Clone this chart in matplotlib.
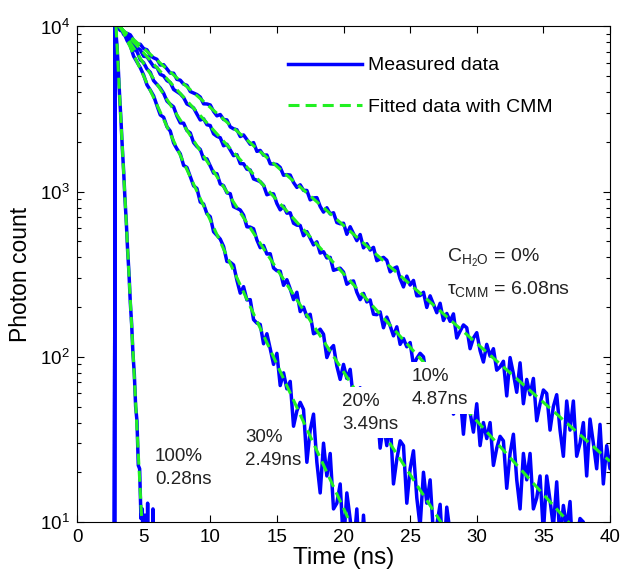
import numpy as np
import matplotlib
matplotlib.use("Agg")
import matplotlib.pyplot as plt
from matplotlib.ticker import LogLocator, NullLocator

plt.rcParams['font.family'] = ['Liberation Sans', 'DejaVu Sans']
plt.rcParams['mathtext.default'] = 'regular'

# rising edge shared by all decays (ns, counts)
rise_t = [2.80, 2.86]
rise_n = [1, 10400]

# measured decays: time of first bin, bin width (ns), counts per bin
start_0, step_0 = 3.25, 0.25
counts_0 = [
    9968, 9213, 9090, 8898, 8248, 7795, 7807, 7346, 7227, 6664, 6461, 6326,
    5846, 5869, 5536, 5221, 5214, 4784, 4732, 4475, 4402, 4038, 3955, 3872,
    3738, 3402, 3396, 3349, 3063, 2877, 2931, 2735, 2718, 2467, 2401, 2370,
    2157, 2205, 2066, 1935, 1981, 1754, 1777, 1661, 1667, 1475, 1469, 1460,
    1402, 1257, 1268, 1260, 1137, 1061, 1100, 1018,
    1017, 892, 916, 920, 813, 752, 799, 733, 745, 650, 639, 644,
    552, 613, 557, 505, 550, 457, 484, 443, 460, 382, 392, 400,
    384, 327, 342, 350, 297, 265, 308, 272, 290, 234, 235, 246,
    199, 234, 208, 185, 211, 166, 183, 164, 182, 130, 143, 156,
    150, 112, 130, 140, 109, 93, 119, 101, 112, 83, 87, 94,
    58, 99, 79, 61, 92, 52, 73, 59, 74, 41, 52, 63,
    60, 36, 50, 59, 36, 25, 54, 36, 54, 25, 30, 40,
    19, 42, 30, 21, 39, 17, 29, 21, 31]

start_10, step_10 = 3.25, 0.25
counts_10 = [
    9455, 9373, 8730, 8502, 7759, 7446, 7216, 6602, 6560, 6125, 5717, 5652,
    5132, 5025, 4703, 4580, 4158, 4032, 3907, 3712, 3395, 3315, 3212, 2948,
    2716, 2762, 2543, 2513, 2239, 2163, 2121, 1896, 1936, 1789, 1652, 1673,
    1479, 1475, 1368, 1352, 1194, 1173, 1150, 1093, 958, 974, 969, 848,
    776, 817, 741, 745, 644, 627, 624, 541, 573, 523, 476, 497,
    425, 433, 397, 400, 334, 339, 344, 326, 275, 285, 288, 246,
    222, 242, 215, 221, 181, 180, 187, 150, 174, 154, 134, 152,
    119, 129, 115, 122, 89, 98, 105, 100, 74, 85, 90, 69,
    59, 74, 62, 69, 45, 50, 59, 34, 58, 46, 35, 52,
    29, 40, 32, 40, 22, 28, 33, 31, 16, 26, 34, 18,
    12, 26, 18, 26, 12, 14, 19, 8.6, 19, 13.5, 9.3, 17.5,
    7.5, 12.6, 9.2, 13.3, 5.4, 7.9, 10.5, 10, 4.7]

start_20, step_20 = 3.25, 0.25
counts_20 = [
    9981, 8948, 8713, 7972, 7291, 7062, 6286, 6031, 5530, 5277, 4696, 4461,
    4237, 3943, 3536, 3384, 3259, 2870, 2607, 2599, 2344, 2269, 1982, 1875,
    1802, 1579, 1580, 1431, 1295, 1284, 1113, 1087, 984, 972, 811, 793,
    775, 721, 613, 610, 596, 510, 458, 472, 419, 421, 345, 332,
    330, 271, 293, 258, 222, 246, 188, 200, 175, 181, 138, 141,
    147, 137, 99, 111, 117, 88, 73, 90, 74, 84, 55, 57,
    65, 37, 61, 47, 35, 52, 28, 39, 29, 42, 17, 24,
    31, 29, 13, 21, 27, 14, 9.4, 20, 13, 18, 8.4, 9.6,
    12.8, 5.7, 12.3, 8.6, 5.8]

start_30, step_30 = 3.25, 0.25
counts_30 = [
    9919, 9246, 8239, 7639, 6604, 6095, 5624, 5087, 4431, 4121, 3801, 3320,
    2913, 2821, 2472, 2326, 1973, 1814, 1694, 1442, 1402, 1234, 1085, 1046,
    865, 842, 735, 705, 572, 544, 516, 466, 378, 374, 360, 291,
    243, 266, 221, 222, 168, 160, 157, 120, 138, 112, 90, 105,
    67, 80, 64, 71, 38, 47, 53, 48, 23, 36, 45, 23,
    15, 30, 19, 26, 12, 13, 17, 7.3, 15, 10.4, 6.8, 12,
    5, 11, 5.5, 7.6, 2.9]

start_100, step_100 = 3.0, 0.1
counts_100 = [
    7700, 5520, 3760, 2710, 1840, 1330, 900, 655, 438, 322,
    213, 158, 104, 79, 50, 41, 22, 21, 10.5, 12,
    5, 11, 3, 13, 2, 4, 2, 12, 1]

# fitted decays (CMM): end points in (ns, counts)
fit_t_0, fit_n_0 = [3.14, 40.0], [10000, 23.3]
fit_t_10, fit_n_10 = [3.20, 37.5], [10000, 8.8]
fit_t_20, fit_n_20 = [3.20, 28.0], [10000, 8.2]
fit_t_30, fit_n_30 = [3.28, 21.0], [10000, 8.1]
fit_t_100, fit_n_100 = [2.93, 5.0], [10000, 6.2]

blue = '#0000ff'
green = '#22f022'

fig = plt.figure(figsize=(6.21, 5.72), dpi=100)
ax = fig.add_axes([0.124, 0.0874, 0.8583, 0.8663])

measured = [
    (start_0, step_0, counts_0),
    (start_10, step_10, counts_10),
    (start_20, step_20, counts_20),
    (start_30, step_30, counts_30),
    (start_100, step_100, counts_100),
]
for start, step, counts in measured:
    t = np.r_[rise_t, start + step * np.arange(len(counts))]
    n = np.r_[rise_n, counts]
    h_meas, = ax.plot(t, n, color=blue, lw=2.5, zorder=2)

fits = [(fit_t_0, fit_n_0), (fit_t_10, fit_n_10), (fit_t_20, fit_n_20),
        (fit_t_30, fit_n_30), (fit_t_100, fit_n_100)]
for ft, fn in fits:
    h_fit, = ax.plot(ft, fn, color=green, lw=2.2, ls=(0, (3.6, 2.0)), zorder=2.5)

ax.set_yscale('log')
ax.set_xlim(0, 40)
ax.set_ylim(10, 1e4)
ax.set_xticks(np.arange(0, 41, 5))
ax.xaxis.set_minor_locator(NullLocator())
ax.yaxis.set_minor_locator(LogLocator(base=10, subs=np.arange(2, 10)))
ax.tick_params(which='both', direction='in', top=True, right=True,
               width=0.8, labelsize=13.5, pad=5)
ax.tick_params(which='major', length=5)
ax.tick_params(which='minor', length=2.8)
for s in ax.spines.values():
    s.set_linewidth(0.8)

ax.set_xlabel('Time (ns)', fontsize=17.5, labelpad=1)
ax.set_ylabel('Photon count', fontsize=16.5, labelpad=6)

ax.legend([h_meas, h_fit], ['Measured data', 'Fitted data with CMM'],
          loc='upper left', bbox_to_anchor=(0.396, 0.939), frameon=False,
          fontsize=14, handlelength=3.8, handletextpad=0.3,
          labelspacing=1.25, borderpad=0, borderaxespad=0)

lab = dict(fontsize=13.5, ha='left', va='top', linespacing=1.45, color='#222222')
ax.text(5.85, 28.1, '100%\n0.28ns', **lab)
ax.text(12.6, 36.5, '30%\n2.49ns', **lab)
ax.text(19.9, 60.4, '20%\n3.49ns', bbox=dict(facecolor='white', edgecolor='none', pad=4), **lab)
ax.text(25.13, 85.5, '10%\n4.87ns', bbox=dict(facecolor='white', edgecolor='none', pad=4), **lab)
ax.text(27.8, 375, 'C$_{H_2O}$ = 0%', fontsize=14, ha='left', va='baseline', color='#222222')
ax.text(27.8, 240, 'τ$_{CMM}$ = 6.08ns', fontsize=14, ha='left', va='baseline', color='#222222')

fig.savefig('out.png', dpi=100)
